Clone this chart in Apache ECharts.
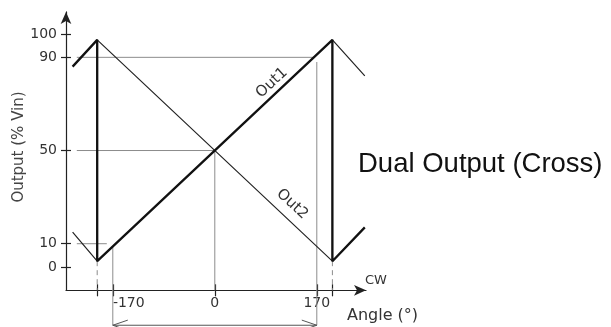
<!DOCTYPE html>
<html><head><meta charset="utf-8">
<script src="https://cdn.jsdelivr.net/npm/echarts@6/dist/echarts.min.js"></script>
<style>html,body{margin:0;padding:0;background:#fff}#c{width:611px;height:327px}</style>
</head><body><div id="c"></div>
<script>
// axis ranges & ticks
const xMin = -248, xMax = 252, yMin = -10, yMax = 109.5;
const yTicks = [0, 10, 50, 90, 100];
const xTicks = [-196, -170, 0, 170, 196];
const xLabels = [-170, 0, 170];
// output curves (angle, %Vin)
const out1 = [[-237, 86], [-196, 97.5], [-196, 2.5], [196, 97.5], [196, 2.5], [250, 17]];
const out2 = [[-237, 15], [-196, 2.5], [-196, 97.5], [196, 2.5], [196, 97.5], [250, 82]];
// guide lines
const guideH = [[90, -230, 166], [50, -230, 0], [10, -230, -180]];   // [y, x1, x2]
const guideV = [[0, 50, -10], [-170, 8.8, -25], [170, 88, -25]];     // [x, y1, y2]
const dashV = [[-196, 2.5, -10], [196, 2.5, -10]];
const bracketY = -25, bracketX = [-170, 170];
const curveLabels = [['Out1', 95, 79, 43], ['Out2', 129, 27, -43]];

const FONT = 'DejaVu Sans';
const series = [];
const gray = '#8c8c8c';
function seg(data, style) {
  series.push({type: 'line', data: data, symbol: 'none', clip: false, silent: true,
    animation: false, lineStyle: style, z: 1});
}
guideH.forEach(g => seg([[g[1], g[0]], [g[2], g[0]]], {color: gray, width: 1}));
guideV.forEach(g => seg([[g[0], g[1]], [g[0], g[2]]], {color: gray, width: 1}));
dashV.forEach(g => seg([[g[0], g[1]], [g[0], g[2]]], {color: gray, width: 1, type: [5, 4]}));
seg([[bracketX[0], bracketY], [bracketX[1], bracketY]], {color: '#555', width: 1});
seg([[bracketX[0] + 25, bracketY + 2.2], [bracketX[0], bracketY], [bracketX[0] + 25, bracketY - 2.2]], {color: '#555', width: 1});
seg([[bracketX[1] - 25, bracketY + 2.2], [bracketX[1], bracketY], [bracketX[1] - 25, bracketY - 2.2]], {color: '#555', width: 1});

series.push({type: 'line', name: 'Out2', data: out2, symbol: 'none', clip: false, animation: false,
  lineStyle: {color: '#222', width: 1.2}, z: 2});
series.push({type: 'line', name: 'Out1', data: out1, symbol: 'none', clip: false, animation: false,
  lineStyle: {color: '#111', width: 2.3}, z: 3,
  markPoint: {symbol: 'circle', symbolSize: 1, itemStyle: {color: 'rgba(0,0,0,0)'}, animation: false,
    data: curveLabels.map(l => ({coord: [l[1], l[2]], label: {show: true, position: 'inside',
      formatter: l[0], rotate: l[3], fontFamily: FONT, fontSize: 15, color: '#333'}}))}});

const axisColor = '#222';
const chart = echarts.init(document.getElementById('c'), null, {renderer: 'canvas'});
chart.setOption({
  backgroundColor: '#fff',
  animation: false,
  grid: {left: 66, top: 11.9, width: 300, height: 278.4},
  xAxis: [{
    type: 'value', min: xMin, max: xMax,
    axisLine: {show: true, onZero: false, symbol: ['none', 'arrow'], symbolSize: [8, 12],
      lineStyle: {color: axisColor, width: 1.2}},
    axisTick: {show: true, customValues: xTicks, length: 6, lineStyle: {color: axisColor, width: 1.2}},
    axisLabel: {show: true, customValues: xLabels, margin: 6, fontFamily: FONT, fontSize: 14, color: '#333',
      formatter: v => v < 0 ? '{n|' + v + '}' : String(v),
      rich: {n: {padding: [0, 0, 0, 32], fontFamily: FONT, fontSize: 14, color: '#333'}}},
    splitLine: {show: false}
  }, {
    type: 'value', min: xMin, max: xMax, position: 'bottom', gridIndex: 0,
    axisLine: {show: false, onZero: false},
    axisTick: {show: true, inside: true, customValues: xTicks, length: 6, lineStyle: {color: axisColor, width: 1.2}},
    axisLabel: {show: false}, splitLine: {show: false}
  }],
  yAxis: [{
    type: 'value', min: yMin, max: yMax,
    axisLine: {show: true, onZero: false, symbol: ['none', 'arrow'], symbolSize: [8, 12],
      lineStyle: {color: axisColor, width: 1.2}},
    axisTick: {show: true, customValues: yTicks, length: 5, lineStyle: {color: axisColor, width: 1.2}},
    axisLabel: {show: true, customValues: yTicks, margin: 9, fontFamily: FONT, fontSize: 14, color: '#333'},
    splitLine: {show: false}
  }, {
    type: 'value', min: yMin, max: yMax, position: 'left', gridIndex: 0,
    axisLine: {show: false, onZero: false},
    axisTick: {show: true, inside: true, customValues: yTicks, length: 5, lineStyle: {color: axisColor, width: 1.2}},
    axisLabel: {show: false}, splitLine: {show: false}
  }],
  graphic: [
    {type: 'text', x: 358, y: 164, style: {text: 'Dual Output (Cross)', font: '27.5px "Liberation Sans"', fill: '#111', verticalAlign: 'middle', align: 'left'}},
    {type: 'text', x: 347, y: 316, style: {text: 'Angle (°)', font: '16px "DejaVu Sans"', fill: '#333', verticalAlign: 'middle', align: 'left'}},
    {type: 'text', x: 365, y: 281, style: {text: 'CW', font: '13px "DejaVu Sans"', fill: '#333', verticalAlign: 'middle', align: 'left'}},
    {type: 'text', x: 19, y: 147, rotation: Math.PI / 2, style: {text: 'Output (% Vin)', font: '15px "DejaVu Sans"', fill: '#444', verticalAlign: 'middle', align: 'center'}}
  ],
  series: series
});
</script></body></html>
